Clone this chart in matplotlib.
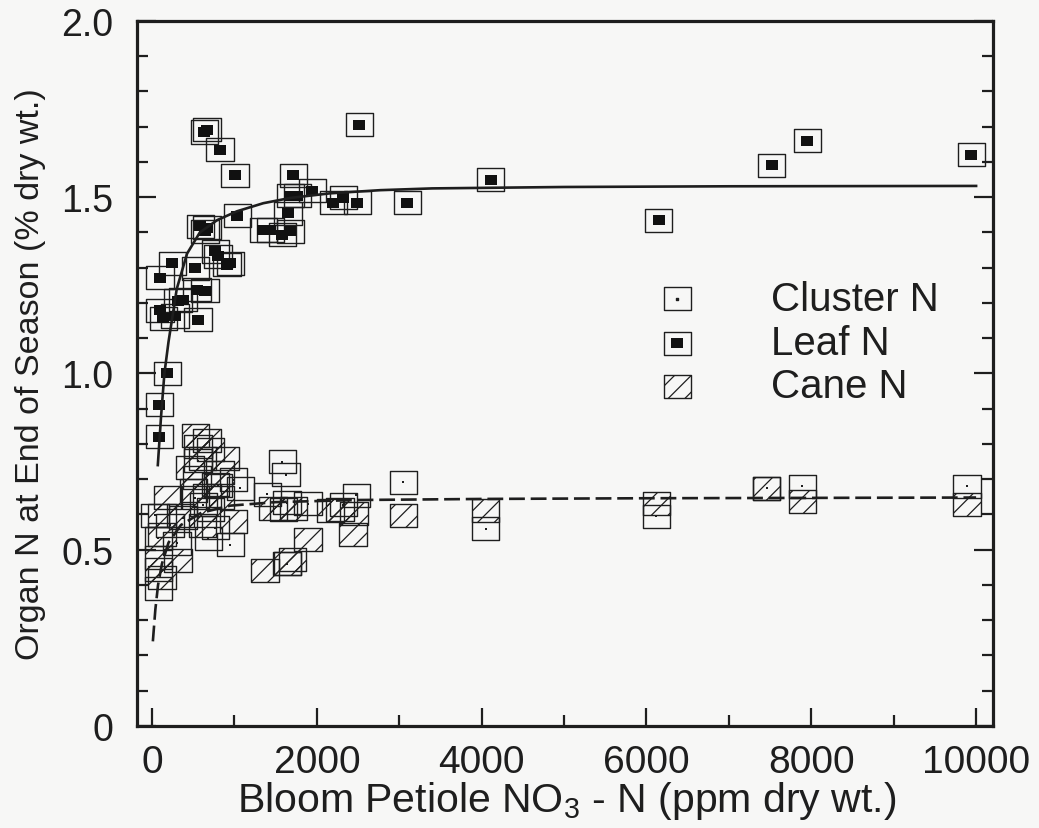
import matplotlib
matplotlib.use('Agg')
import matplotlib.pyplot as plt
from matplotlib.path import Path

# ---------------- data ----------------
leaf_x = [667, 631, 825, 1007, 2512, 1711, 1942, 1675, 1760, 2197, 2318, 2488, 3095,
          1650, 1432, 1578, 1675, 1347, 1032, 583, 667, 643, 765, 800, 910, 947, 522,
          243, 97, 546, 643, 376, 315, 97, 134, 279, 558, 182, 85, 85,
          4110, 6150, 7520, 7950, 9940]
leaf_y = [1.691, 1.685, 1.634, 1.563, 1.705, 1.563, 1.518, 1.504, 1.504, 1.484, 1.498, 1.484, 1.484,
          1.455, 1.407, 1.393, 1.404, 1.407, 1.447, 1.418, 1.413, 1.404, 1.347, 1.333, 1.308, 1.313, 1.299,
          1.313, 1.271, 1.237, 1.234, 1.209, 1.206, 1.180, 1.157, 1.163, 1.152, 1.001, 0.911, 0.820,
          1.550, 1.435, 1.590, 1.660, 1.620]

cluster_x = [4050, 6120, 7460, 7890, 9890, 3046, 2476, 1893, 2318, 1578, 1626, 1396, 1638,
             1640, 36, 73, 73, 303, 376, 680, 947, 619, 1068, 983, 800, 522, 218, 765, 558]
cluster_y = [0.560, 0.595, 0.675, 0.680, 0.680, 0.692, 0.655, 0.630, 0.627, 0.749, 0.712, 0.658, 0.633,
             0.460, 0.598, 0.533, 0.390, 0.519, 0.590, 0.533, 0.514, 0.627, 0.675, 0.698, 0.681, 0.647,
             0.570, 0.562, 0.752]

cane_x = [4050, 6120, 7460, 7890, 9890, 3046, 2451, 2439, 1893, 2160, 2281, 1468, 1590, 1711,
          1371, 1638, 1699, 522, 667, 558, 704, 607, 886, 825, 765, 546, 461, 182, 498, 667,
          825, 983, 340, 121, 121, 315, 73, 73, 121, 607, 704]
cane_y = [0.611, 0.630, 0.675, 0.638, 0.627, 0.598, 0.604, 0.542, 0.528, 0.610, 0.613, 0.618, 0.613, 0.618,
          0.440, 0.462, 0.471, 0.823, 0.811, 0.794, 0.783, 0.760, 0.760, 0.718, 0.684, 0.704, 0.732,
          0.647, 0.667, 0.655, 0.647, 0.580, 0.598, 0.598, 0.542, 0.470, 0.477, 0.443, 0.420, 0.570, 0.613]

# fitted curves
leaf_fit_x = [70, 110, 150, 200, 300, 425, 580, 790, 1030, 1350, 1680, 2160, 2770, 3400,
              5000, 7000, 10000]
leaf_fit_y = [0.74, 0.88, 1.00, 1.09, 1.24, 1.34, 1.40, 1.435, 1.46, 1.483, 1.498, 1.511,
              1.52, 1.525, 1.529, 1.531, 1.532]
other_fit_x = [10, 40, 73, 120, 200, 350, 600, 950, 1500, 2500, 4000, 6000, 8000, 10000]
other_fit_y = [0.24, 0.33, 0.40, 0.46, 0.52, 0.57, 0.605, 0.625, 0.635, 0.641, 0.644,
               0.646, 0.647, 0.648]

x_ticks = [0, 2000, 4000, 6000, 8000, 10000]
x_tick_labels = ['0', '2000', '4000', '6000', '8000', '10000']
x_minor = [1000, 3000, 5000, 7000, 9000]
y_ticks = [0, 0.5, 1.0, 1.5, 2.0]
y_tick_labels = ['0', '0.5', '1.0', '1.5', '2.0']
y_minor = [0.1, 0.2, 0.3, 0.4, 0.6, 0.7, 0.8, 0.9, 1.1, 1.2, 1.3, 1.4, 1.6, 1.7, 1.8, 1.9]
legend_labels = ['Cluster N', 'Leaf N', 'Cane N']
x_label = 'Bloom Petiole NO$_3$ - N (ppm dry wt.)'
y_label = 'Organ N at End of Season (% dry wt.)'

# ---------------- style ----------------
plt.rcParams['font.family'] = ['Liberation Sans', 'DejaVu Sans']
plt.rcParams['mathtext.fontset'] = 'custom'
plt.rcParams['mathtext.rm'] = 'Liberation Sans'
plt.rcParams['mathtext.it'] = 'Liberation Sans'
plt.rcParams['hatch.linewidth'] = 0.9
plt.rcParams['hatch.color'] = '#222222'

BG = '#f7f7f6'
INK = '#1e1e1e'

fig = plt.figure(figsize=(10.39, 8.29), dpi=100, facecolor=BG)
ax = fig.add_axes([0.1319, 0.1231, 0.8239, 0.8504])
ax.set_facecolor(BG)

rect = Path([(-1, -0.85), (1, -0.85), (1, 0.85), (-1, 0.85), (0, 0)],
            [Path.MOVETO, Path.LINETO, Path.LINETO, Path.LINETO, Path.CLOSEPOLY])
BOX = 380
INNER = 64

ax.plot(leaf_fit_x, leaf_fit_y, color=INK, lw=1.9, zorder=4)
ax.plot(other_fit_x, other_fit_y, color=INK, lw=1.9, dashes=(6, 2.2), zorder=4)

ax.scatter(cane_x, cane_y, s=BOX, marker=rect, facecolors='none', edgecolors=INK,
           linewidths=1.0, hatch='//', zorder=3)
ax.scatter(cluster_x, cluster_y, s=BOX, marker=rect, facecolors='none', edgecolors=INK,
           linewidths=1.0, zorder=3)
ax.scatter(cluster_x, cluster_y, s=3, marker='s', color=INK, linewidths=0, zorder=3)
ax.scatter(leaf_x, leaf_y, s=BOX, marker=rect, facecolors='none', edgecolors=INK,
           linewidths=1.0, zorder=3)
ax.scatter(leaf_x, leaf_y, s=INNER, marker=rect, color='#111111', linewidths=0, zorder=3)

# legend (drawn manually)
leg_y = [0.606, 0.543, 0.482]
lx = 0.631
ax.scatter([lx], [leg_y[0]], s=BOX, marker=rect, facecolors='none', edgecolors=INK,
           linewidths=1.0, transform=ax.transAxes, zorder=5)
ax.scatter([lx], [leg_y[0]], s=3, marker='s', color=INK, transform=ax.transAxes, zorder=5)
ax.scatter([lx], [leg_y[1]], s=BOX, marker=rect, facecolors='none', edgecolors=INK,
           linewidths=1.0, transform=ax.transAxes, zorder=5)
ax.scatter([lx], [leg_y[1]], s=INNER, marker=rect, color='#111111', linewidths=0,
           transform=ax.transAxes, zorder=5)
ax.scatter([lx], [leg_y[2]], s=BOX, marker=rect, facecolors='none', edgecolors=INK,
           linewidths=1.0, hatch='//', transform=ax.transAxes, zorder=5)
for yy, lab in zip(leg_y, legend_labels):
    ax.text(0.74, yy, lab, transform=ax.transAxes, fontsize=29, va='center', ha='left',
            color=INK)

ax.set_xlim(-182, 10206)
ax.set_ylim(0, 2.0)
ax.set_xticks(x_ticks)
ax.set_xticklabels(x_tick_labels)
ax.set_xticks(x_minor, minor=True)
ax.set_yticks(y_ticks)
ax.set_yticklabels(y_tick_labels)
ax.set_yticks(y_minor, minor=True)

ax.tick_params(axis='x', which='both', direction='in', top=False, bottom=True,
               width=1.6, color=INK, labelsize=28, pad=13, labelcolor=INK)
ax.tick_params(axis='x', which='major', length=13)
ax.tick_params(axis='x', which='minor', length=8)
ax.tick_params(axis='y', which='both', direction='in', left=True, right=True,
               width=1.6, color=INK, labelsize=27, pad=17, labelcolor=INK)
ax.tick_params(axis='y', which='major', length=14)
ax.tick_params(axis='y', which='minor', length=8)
for sp in ax.spines.values():
    sp.set_linewidth(2.3)
    sp.set_color(INK)

fig.text(567 / 1039, 1 - 801 / 829, x_label, fontsize=29.5, ha='center', va='center',
         color=INK)
fig.text(31 / 1039, 1 - 374 / 829, y_label, fontsize=24.5, ha='center', va='center',
         rotation=90, color=INK)

fig.savefig('out.png', dpi=100, facecolor=BG)
